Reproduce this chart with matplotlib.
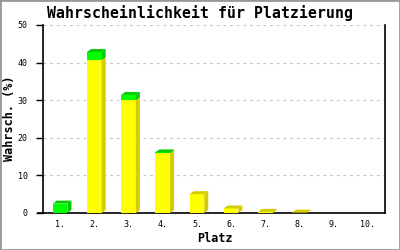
import matplotlib
matplotlib.use("Agg")
import matplotlib.pyplot as plt
from matplotlib.patches import Polygon, Rectangle
import numpy as np

# data _______________________________________________________________________
places = ['1.', '2.', '3.', '4.', '5.', '6.', '7.', '8.', '9.', '10.']
yellow_part = [0.0, 40.7, 30.0, 15.9, 5.0, 1.2, 0.3, 0.1, 0.0, 0.0]
green_part = [2.5, 2.1, 1.4, 0.2, 0.0, 0.0, 0.0, 0.0, 0.0, 0.0]
y_ticks = [0, 10, 20, 30, 40, 50]
# ____________________________________________________________________________

YELLOW, YELLOW_DARK = '#ffff00', '#d4cc00'
GREEN, GREEN_DARK = '#00ff00', '#00cc00'
MONO = 'DejaVu Sans Mono'

W, H = 400, 250
fig = plt.figure(figsize=(W / 100, H / 100), dpi=100)
ax = fig.add_axes([43 / W, 37 / H, 342 / W, 188 / H])

ymax = 50
ax.set_xlim(-0.5, len(places) - 0.5)
ax.set_ylim(0, ymax)

# depth of the fake 3d, in pixels -> data units
dx = 4 / 342 * len(places)
dy = 3 / 188 * ymax
bw = 0.43


def block(x, y0, h, front, dark):
    if h <= 0:
        return
    x0, x1, y1 = x - bw / 2, x + bw / 2, y0 + h
    ax.bar(x, h, bottom=y0, width=bw, color=front, linewidth=0, zorder=3)
    side = [(x1, y0), (x1 + dx, y0 + dy), (x1 + dx, y1 + dy), (x1, y1)]
    top = [(x0, y1), (x0 + dx, y1 + dy), (x1 + dx, y1 + dy), (x1, y1)]
    ax.add_patch(Polygon(side, closed=True, color=dark, lw=0, zorder=3))
    ax.add_patch(Polygon(top, closed=True, color=dark, lw=0, zorder=3))


for i in range(len(places)):
    block(i, 0, yellow_part[i], YELLOW, YELLOW_DARK)
    block(i, yellow_part[i], green_part[i], GREEN, GREEN_DARK)

ax.set_yticks(y_ticks)
ax.set_yticklabels([str(v) for v in y_ticks], family=MONO, fontsize=6)
ax.set_xticks(range(len(places)))
ax.set_xticklabels(places, family=MONO, fontsize=6)
ax.tick_params(axis='x', length=0, pad=5)
ax.tick_params(axis='y', length=5, width=1, pad=6)

for v in y_ticks[1:]:
    ax.axhline(v, color='#c4c4c4', lw=0.8, ls=(0, (2.5, 3.5)), zorder=1)

ax.spines['top'].set_visible(False)
for s in ['left', 'right', 'bottom']:
    ax.spines[s].set_linewidth(1.2)
ax.spines['bottom'].set_bounds(-0.65, len(places) - 0.5)

fig.text(215 / W, 1 - 239 / H, 'Platz', family=MONO, fontweight='bold',
         fontsize=8.5, ha='center', va='center')
fig.text(10 / W, 1 - 118 / H, 'Wahrsch. (%)', family=MONO, fontweight='bold',
         fontsize=8.5, ha='center', va='center', rotation=90)
fig.text(0.5, 1 - 13 / H, 'Wahrscheinlichkeit für Platzierung', family=MONO,
         fontweight='bold', fontsize=10.7, ha='center', va='center')

fig.patches.append(Rectangle((0, 0), 1, 1, transform=fig.transFigure, fill=False,
                             edgecolor='#999999', lw=2))

fig.savefig('out.png', dpi=100)
